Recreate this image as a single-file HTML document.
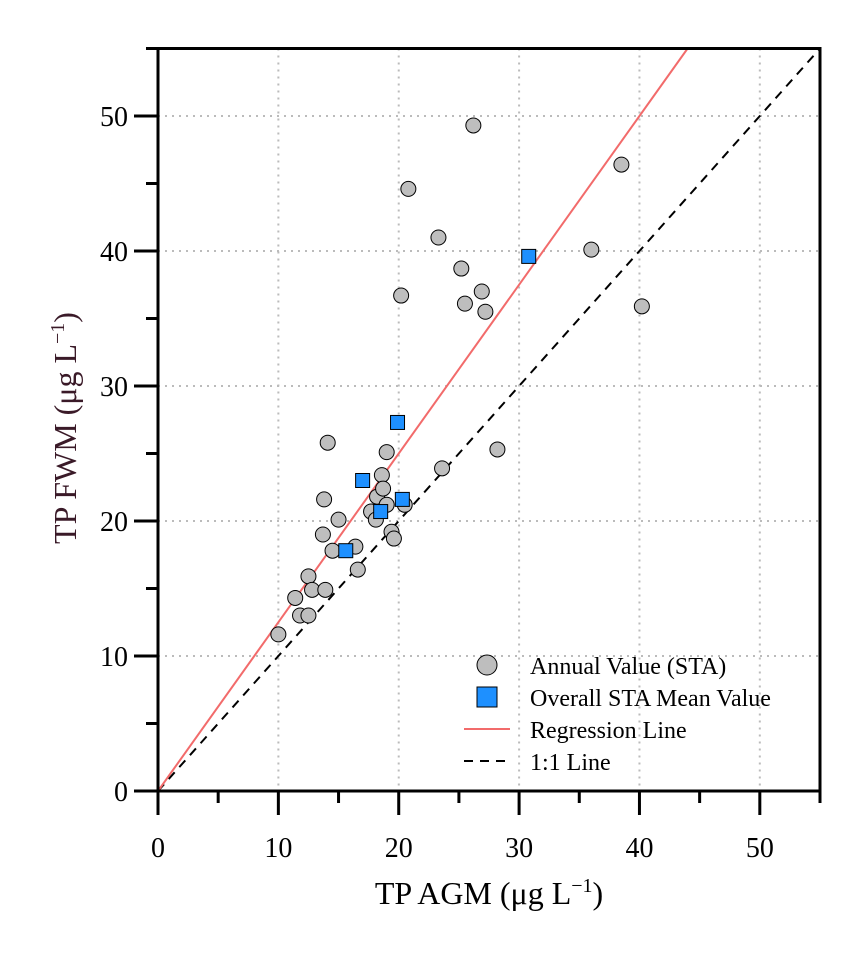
<!DOCTYPE html>
<html><head><meta charset="utf-8"><style>
body{margin:0;background:#fff}
svg text{font-family:"Liberation Serif",serif;fill:#000}
</style></head><body>
<svg id="chart" width="850" height="950" xmlns="http://www.w3.org/2000/svg"></svg>
<script>
const xTicks=[0,10,20,30,40,50];
const yTicks=[0,10,20,30,40,50];
const annualX=[10.0,11.4,11.8,12.5,12.5,12.8,13.7,13.8,13.9,14.1,14.5,15.0,16.4,16.6,17.7,18.1,18.2,18.6,18.7,19.0,19.0,19.4,19.6,20.5,20.2,20.8,23.3,23.6,25.2,25.5,26.2,26.9,27.2,28.2,36.0,38.5,40.2];
const annualY=[11.6,14.3,13.0,13.0,15.9,14.9,19.0,21.6,14.9,25.8,17.8,20.1,18.1,16.4,20.7,20.1,21.8,23.4,22.4,21.2,25.1,19.2,18.7,21.2,36.7,44.6,41.0,23.9,38.7,36.1,49.3,37.0,35.5,25.3,40.1,46.4,35.9];
const meanX=[15.6,17.0,18.5,19.9,20.3,30.8];
const meanY=[17.8,23.0,20.7,27.3,21.6,39.6];
const regSlope=1.25;
const X0=158,X1=820,Y0=791,Y1=48.5,MAX=55;
const sx=v=>X0+(X1-X0)*v/MAX, sy=v=>Y0-(Y0-Y1)*v/MAX;
const svg=document.getElementById('chart');
function mk(t,a,p){const e=document.createElementNS('http://www.w3.org/2000/svg',t);for(const k in a)e.setAttribute(k,a[k]);(p||svg).appendChild(e);return e;}
for(const t of xTicks){if(t===0)continue;const l=mk('line',{x1:sx(t),x2:sx(t),y1:Y1,y2:Y0,stroke:'#bbb','stroke-width':2,'stroke-dasharray':'2,5'});

}
for(const t of yTicks){if(t===0)continue;const l=mk('line',{x1:X0,x2:X1,y1:sy(t),y2:sy(t),stroke:'#bbb','stroke-width':2,'stroke-dasharray':'2,5'});

}
const oneOne=mk('line',{x1:sx(0),y1:sy(0),x2:sx(MAX),y2:sy(MAX),stroke:'#000','stroke-width':2,'stroke-dasharray':'9,7'});


const xe=MAX/regSlope;
const reg=mk('line',{x1:sx(0),y1:sy(0),x2:sx(xe),y2:sy(MAX),stroke:'#f26b6b','stroke-width':2});


annualX.forEach((x,i)=>{const c=mk('circle',{cx:sx(x),cy:sy(annualY[i]),r:7.5,fill:'#bebebe',stroke:'#000','stroke-width':1});

});
meanX.forEach((x,i)=>{const r=mk('rect',{x:sx(x)-7,y:sy(meanY[i])-7,width:14,height:14,fill:'#1e90ff',stroke:'#000','stroke-width':1});

});
const ax=mk('path',{d:`M${X0-24},${Y0}H${X1}V${Y1}H${X0}V${Y0+24}`,fill:'none',stroke:'#000','stroke-width':3});


for(let v=0;v<=MAX;v+=5){const maj=v%10===0;
const t=mk('line',{x1:sx(v),x2:sx(v),y1:Y0,y2:Y0+(maj?24:12),stroke:'#000','stroke-width':3});


const u=mk('line',{x1:X0,x2:X0-(maj?24:12),y1:sy(v),y2:sy(v),stroke:'#000','stroke-width':3});

}
xTicks.forEach(t=>{const e=mk('text',{x:sx(t),y:857,'text-anchor':'middle','font-size':28});e.textContent=t;

});
yTicks.forEach(t=>{const e=mk('text',{x:128,y:sy(t)+10,'text-anchor':'end','font-size':28});e.textContent=t;

});
</script>
<svg style="position:absolute;left:0;top:0" width="850" height="950">
<text x="489" y="904" text-anchor="middle" font-size="32">TP AGM (μg L<tspan dy="-12" font-size="20">−1</tspan><tspan dy="12">)</tspan></text>
<text transform="translate(76,428) rotate(-90)" text-anchor="middle" font-size="32" style="fill:#3a1a28">TP FWM (μg L<tspan dy="-12" font-size="20">−1</tspan><tspan dy="12">)</tspan></text>
<g font-size="24">
<circle cx="487" cy="665" r="10" fill="#bebebe" stroke="#000"/>
<text x="530" y="674">Annual Value (STA)</text>
<rect x="477" y="687" width="20" height="20" fill="#1e90ff" stroke="#000"/>
<text x="530" y="706">Overall STA Mean Value</text>
<line x1="464" x2="510" y1="729" y2="729" stroke="#f26b6b" stroke-width="2"/>
<text x="530" y="738">Regression Line</text>
<line x1="464" x2="510" y1="761" y2="761" stroke="#000" stroke-width="2" stroke-dasharray="9,7"/>
<text x="530" y="770">1:1 Line</text>
</g>
</svg>
</body></html>
